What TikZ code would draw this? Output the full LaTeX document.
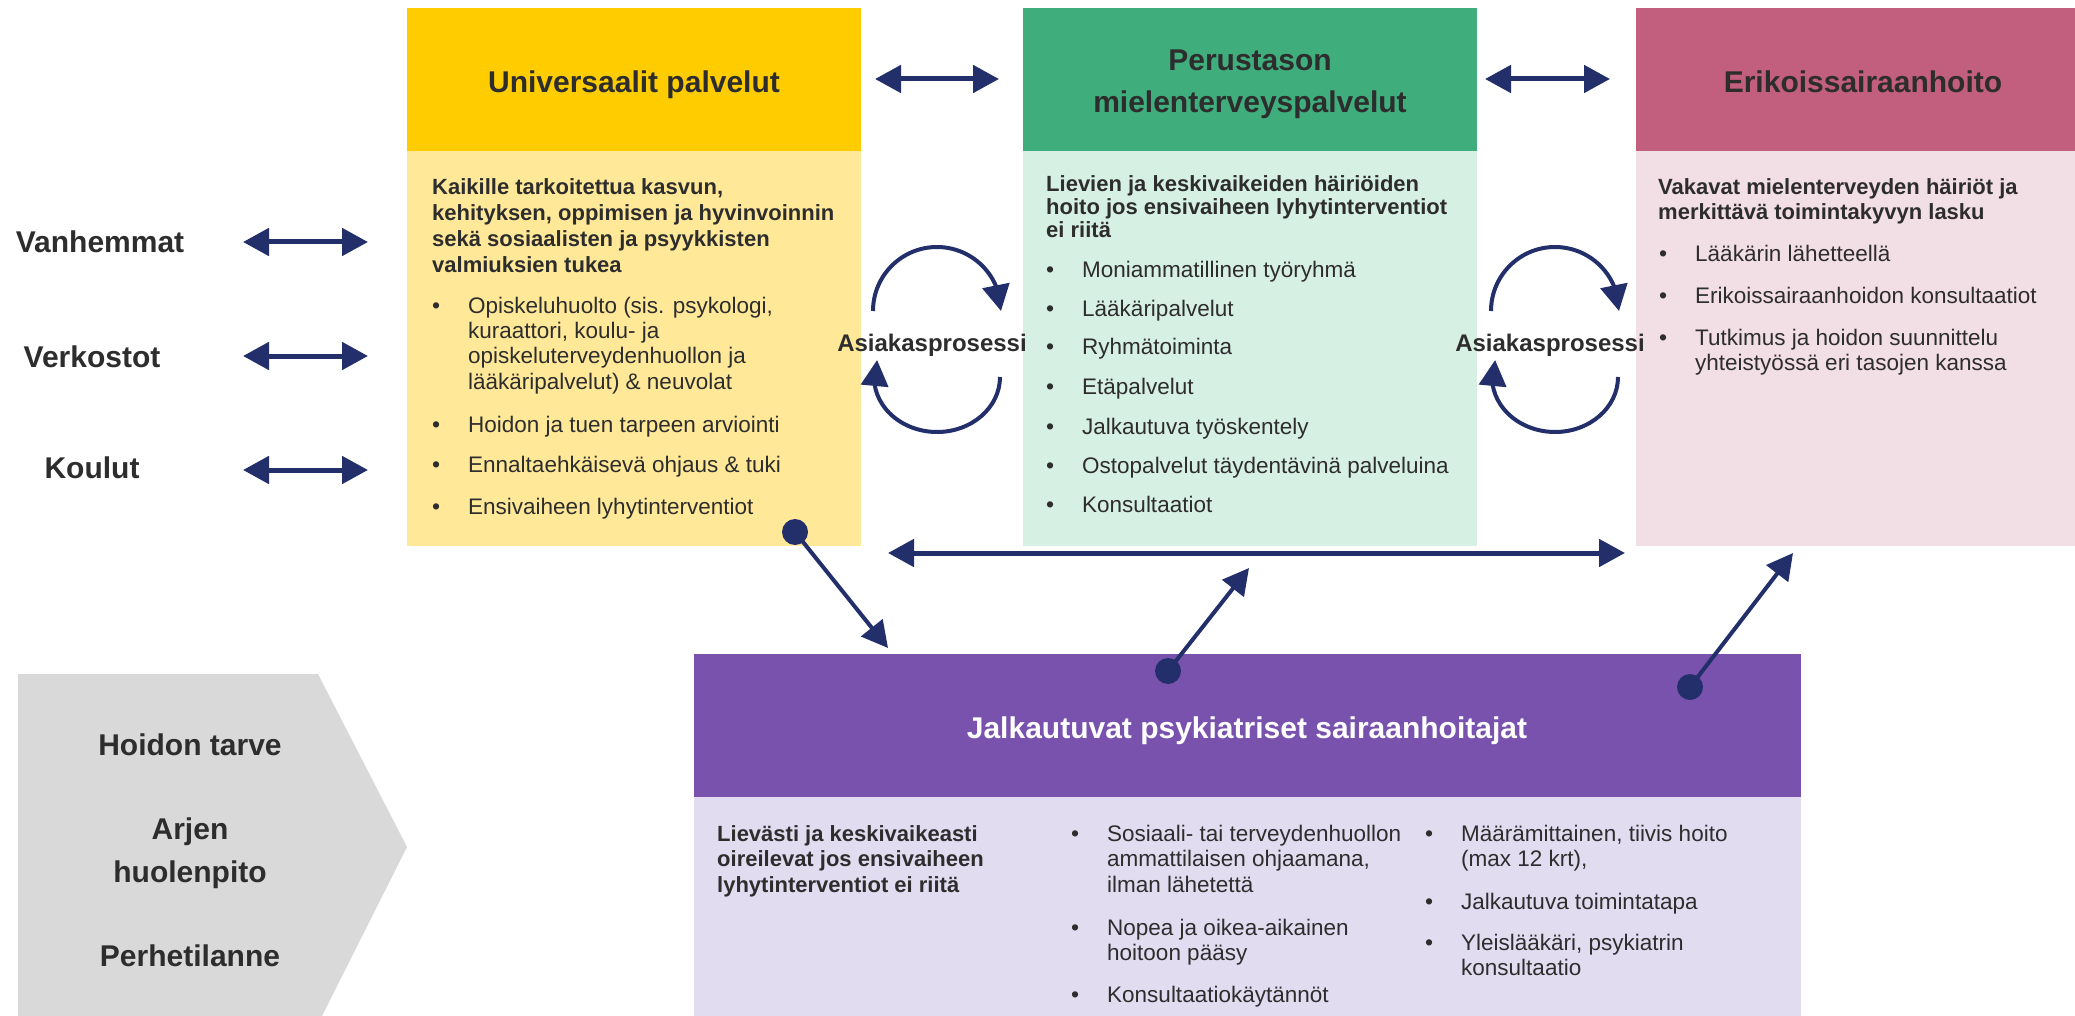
\documentclass[tikz,border=0pt]{standalone}
\usepackage{fontspec}
\setmainfont{Liberation Sans}
\usetikzlibrary{arrows.meta,bending}
\definecolor{yhead}{RGB}{255,204,0}
\definecolor{ybody}{RGB}{255,233,153}
\definecolor{ghead}{RGB}{64,173,125}
\definecolor{gbody}{RGB}{215,240,228}
\definecolor{phead}{RGB}{194,94,126}
\definecolor{pbody}{RGB}{242,222,229}
\definecolor{uhead}{RGB}{121,82,174}
\definecolor{ubody}{RGB}{226,220,240}
\definecolor{chev}{RGB}{217,217,217}
\definecolor{navy}{RGB}{34,47,106}
\definecolor{txt}{RGB}{45,45,45}
\newcommand{\bul}{\makebox[36pt][l]{\fontsize{23}{23}\selectfont\raisebox{0pt}{•}}}
\begin{document}
\begin{tikzpicture}[x=1pt,y=1pt,
  >={Triangle[length=26pt,width=27pt]},
  panel/.style={draw=none,inner sep=0,outer sep=0,anchor=north west},
  hdr/.style={font=\fontsize{30}{42}\selectfont\bfseries,text=txt,inner sep=0,anchor=base},
  lbl/.style={font=\fontsize{30}{43}\selectfont\bfseries,text=txt,inner sep=0,anchor=base},
  aproc/.style={font=\fontsize{24}{28}\selectfont\bfseries,text=txt,inner sep=0,anchor=base},
  bodyb/.style={font=\fontsize{22}{26}\selectfont\bfseries,text=txt,inner sep=0,anchor=base west},
  bodyr/.style={font=\fontsize{22.5}{25.5}\selectfont,text=txt,inner sep=0,anchor=base west},
  conn/.style={draw=navy,line width=5pt,<->},
  cyc/.style={draw=navy,line width=4pt,->},
  diag/.style={draw=navy,line width=4pt,->},
  dot/.style={circle,fill=navy,draw=none,minimum size=26pt,inner sep=0}
]
\useasboundingbox (0,0) rectangle (2075,-1016);
\fill[white] (0,0) rectangle (2075,-1016);

% panels
\node[panel,fill=yhead,minimum width=454pt,minimum height=143pt] (yh) at (407,-8) {};
\node[panel,fill=ybody,minimum width=454pt,minimum height=395pt] (yb) at (407,-151) {};
\node[panel,fill=ghead,minimum width=454pt,minimum height=143pt] (gh) at (1023,-8) {};
\node[panel,fill=gbody,minimum width=454pt,minimum height=395pt] (gb) at (1023,-151) {};
\node[panel,fill=phead,minimum width=439pt,minimum height=143pt] (ph) at (1636,-8) {};
\node[panel,fill=pbody,minimum width=439pt,minimum height=395pt] (pb) at (1636,-151) {};
\node[panel,fill=uhead,minimum width=1107pt,minimum height=143pt] (uh) at (694,-654) {};
\node[panel,fill=ubody,minimum width=1107pt,minimum height=219pt] (ub) at (694,-797) {};
\fill[chev] (18,-674) -- (318,-674) -- (407,-847) -- (322,-1016) -- (18,-1016) -- cycle;

% headers
\node[hdr] (yht) at (634,-93) {Universaalit palvelut};
\node[hdr] (ght) at (1250,-71) {\parbox[t]{440pt}{\centering Perustason\\mielenterveyspalvelut}};
\node[hdr] (pht) at (1863,-93) {Erikoissairaanhoito};
\node[hdr,text=white] (uht) at (1247,-738) {Jalkautuvat psykiatriset sairaanhoitajat};

% yellow body
\node[bodyb] (yp) at (432,-195) {\parbox[t]{425pt}{Kaikille tarkoitettua kasvun,\\kehityksen, oppimisen ja hyvinvoinnin\\sekä sosiaalisten ja psyykkisten\\valmiuksien tukea}};
\node[bodyr] (y1) at (432,-313) {\bul\parbox[t]{380pt}{Opiskeluhuolto (sis. psykologi,\\kuraattori, koulu- ja\\opiskeluterveydenhuollon ja\\lääkäripalvelut) \& neuvolat}};
\node[bodyr] (y2) at (432,-432) {\bul Hoidon ja tuen tarpeen arviointi};
\node[bodyr] (y3) at (432,-472) {\bul Ennaltaehkäisevä ohjaus \& tuki};
\node[bodyr] (y4) at (432,-514) {\bul Ensivaiheen lyhytinterventiot};

% green body
\node[bodyb,font=\fontsize{22}{23}\selectfont\bfseries] (gp) at (1046,-192) {\parbox[t]{430pt}{Lievien ja keskivaikeiden häiriöiden\\hoito jos ensivaiheen lyhytinterventiot\\ei riitä}};
\node[bodyr] (g1) at (1046,-278) {\bul Moniammatillinen työryhmä};
\node[bodyr] (g2) at (1046,-317) {\bul Lääkäripalvelut};
\node[bodyr] (g3) at (1046,-355) {\bul Ryhmätoiminta};
\node[bodyr] (g4) at (1046,-394) {\bul Etäpalvelut};
\node[bodyr] (g5) at (1046,-434) {\bul Jalkautuva työskentely};
\node[bodyr] (g6) at (1046,-473) {\bul Ostopalvelut täydentävinä palveluina};
\node[bodyr] (g7) at (1046,-512) {\bul Konsultaatiot};

% pink body
\node[bodyb,font=\fontsize{22}{25}\selectfont\bfseries] (pp) at (1658,-195) {\parbox[t]{410pt}{Vakavat mielenterveyden häiriöt ja\\merkittävä toimintakyvyn lasku}};
\node[bodyr] (p1) at (1659,-262) {\bul Lääkärin lähetteellä};
\node[bodyr] (p2) at (1659,-304) {\bul Erikoissairaanhoidon konsultaatiot};
\node[bodyr,font=\fontsize{22.5}{25}\selectfont] (p3) at (1659,-345) {\bul\parbox[t]{370pt}{Tutkimus ja hoidon suunnittelu\\yhteistyössä eri tasojen kanssa}};

% purple body
\node[bodyb,font=\fontsize{22}{25.5}\selectfont\bfseries] (upp) at (717,-841) {\parbox[t]{330pt}{Lievästi ja keskivaikeasti\\oireilevat jos ensivaiheen\\lyhytinterventiot ei riitä}};
\node[bodyr] (u1) at (1071,-841) {\bul\parbox[t]{320pt}{Sosiaali- tai terveydenhuollon\\ammattilaisen ohjaamana,\\ilman lähetettä}};
\node[bodyr] (u2) at (1071,-935) {\bul\parbox[t]{320pt}{Nopea ja oikea-aikainen\\hoitoon pääsy}};
\node[bodyr] (u3) at (1071,-1002) {\bul Konsultaatiokäytännöt};
\node[bodyr] (u4) at (1425,-841) {\bul\parbox[t]{330pt}{Määrämittainen, tiivis hoito\\(max 12 krt),}};
\node[bodyr] (u5) at (1425,-909) {\bul Jalkautuva toimintatapa};
\node[bodyr] (u6) at (1425,-950) {\bul\parbox[t]{330pt}{Yleislääkäri, psykiatrin\\konsultaatio}};

% left labels
\node[lbl] (vh) at (100,-253) {Vanhemmat};
\node[lbl] (vk) at (92,-367) {Verkostot};
\node[lbl] (kl) at (92,-478) {Koulut};
\coordinate (la1) at (243,-242); \coordinate (lb1) at (368,-242);
\coordinate (la2) at (243,-356); \coordinate (lb2) at (368,-356);
\coordinate (la3) at (243,-470); \coordinate (lb3) at (368,-470);
\draw[conn] (la1) -- (lb1);
\draw[conn] (la2) -- (lb2);
\draw[conn] (la3) -- (lb3);

% chevron labels
\node[lbl] (c1) at (190,-755) {Hoidon tarve};
\node[lbl] (c2) at (190,-839) {\parbox[t]{260pt}{\centering Arjen\\huolenpito}};
\node[lbl] (c3) at (190,-966) {Perhetilanne};

% top arrows
\coordinate (t1a) at (875,-79); \coordinate (t1b) at (999,-79);
\coordinate (t2a) at (1485,-79); \coordinate (t2b) at (1610,-79);
\draw[conn] (t1a) -- (t1b);
\draw[conn] (t2a) -- (t2b);

% client process cycles
\node[aproc] (ap1) at (932,-352) {Asiakasprosessi};
\node[aproc] (ap2) at (1550,-352) {Asiakasprosessi};
\draw[cyc] (873,-311) arc[start angle=180,end angle=0,radius=64];
\draw[cyc] (1000,-377) arc[start angle=0,end angle=-198,x radius=63,y radius=55];
\draw[cyc] (1491,-311) arc[start angle=180,end angle=0,radius=64];
\draw[cyc] (1618,-377) arc[start angle=0,end angle=-198,x radius=63,y radius=55];

% long horizontal arrow
\coordinate (ha) at (888,-553); \coordinate (hb) at (1625,-553);
\draw[conn] (ha) -- (hb);

% dots and diagonal arrows
\node[dot] (d1) at (795,-532) {};
\node[dot] (d2) at (1168,-671) {};
\node[dot] (d3) at (1690,-687) {};
\coordinate (e1) at (888,-648);
\coordinate (e2) at (1249,-568);
\coordinate (e3) at (1793,-553);
\draw[diag] (d1.center) -- (e1);
\draw[diag] (d2.center) -- (e2);
\draw[diag] (d3.center) -- (e3);
\end{tikzpicture}
\end{document}
